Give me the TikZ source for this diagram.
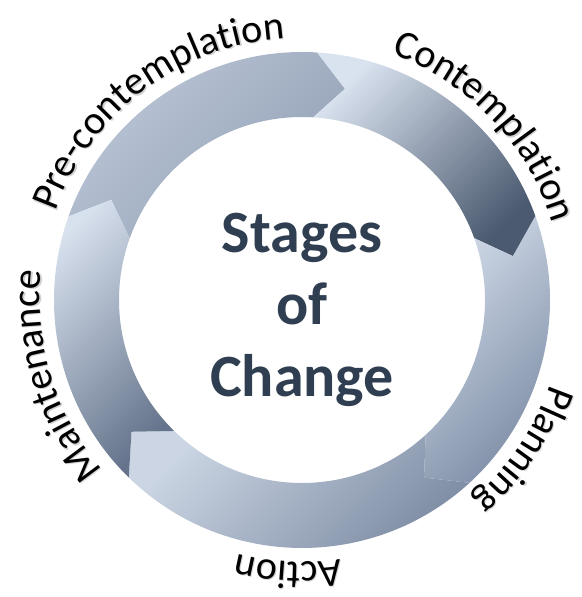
\documentclass[tikz,border=0pt]{standalone}
\usepackage{fontspec}
\setmainfont{Carlito}
\usetikzlibrary{decorations.text}

\definecolor{titleblue}{HTML}{2F3E51}
\definecolor{labelshadow}{HTML}{D2D2D2}
\definecolor{prelight}{HTML}{BCC7D7}
\definecolor{predark}{HTML}{93A1B6}
\definecolor{contlight}{HTML}{D9E2EF}
\definecolor{contdark}{HTML}{4B5A70}
\definecolor{planlight}{HTML}{CFD9E7}
\definecolor{plandark}{HTML}{7A8AA3}
\definecolor{actlight}{HTML}{CBD5E3}
\definecolor{actdark}{HTML}{7B8AA2}
\definecolor{maintlight}{HTML}{D8E1EE}
\definecolor{maintdark}{HTML}{65748C}

\newcommand{\labelfont}{\fontsize{40}{48}\selectfont}
% one arrow piece of the ring: tail angle, head angle, light and dark colour
\newcommand{\ringseg}[4]{\shade[seg={#3}{#4}] (#1:248) arc[start angle=#1, end angle=#2, radius=248] -- ({#2-8}:215.5) -- (#2:183) arc[start angle=#2, end angle=#1, radius=183] -- ({#1-8}:215.5) -- cycle;}
% text round the outside of the ring: centre angle, text
\newcommand{\ringlabel}[2]{%
	\path[shift={(1.2,-1.2)}, decorate, decoration={text along path, text align=center, text={|\labelfont\color{labelshadow}|#2}}] ({#1+60}:262) arc[start angle={#1+60}, end angle={#1-60}, radius=262];
	\path[decorate, decoration={text along path, text align=center, text={|\labelfont|#2}}] ({#1+60}:262) arc[start angle={#1+60}, end angle={#1-60}, radius=262];}

\begin{document}
\begin{tikzpicture}[x=1pt, y=1pt,
	seg/.style 2 args={top color=#1, bottom color=#2, shading angle=45},
	title/.style={align=center, text=titleblue, font=\fontsize{60}{72}\selectfont\bfseries}]
			\useasboundingbox (-302,-297) rectangle (279,300);
			\coordinate (c) at (0,0);
			\ringseg{160.3}{86.5}{prelight}{predark}
			\ringseg{86.5}{19.75}{contlight}{contdark}
			\ringseg{19.75}{-47.5}{planlight}{plandark}
			\ringseg{-47.5}{-134.3}{actlight}{actdark}
			\ringseg{-134.3}{-199.7}{maintlight}{maintdark}
			\node[title] (stages) at (c) [yshift=-10pt] {Stages\\of\\Change};
			\ringlabel{127}{Pre-contemplation}
			\ringlabel{43.5}{Contemplation}
			\ringlabel{-34}{Planning}
			\ringlabel{-93}{Action}
			\ringlabel{197}{Maintenance}
		\end{tikzpicture}
\end{document}
